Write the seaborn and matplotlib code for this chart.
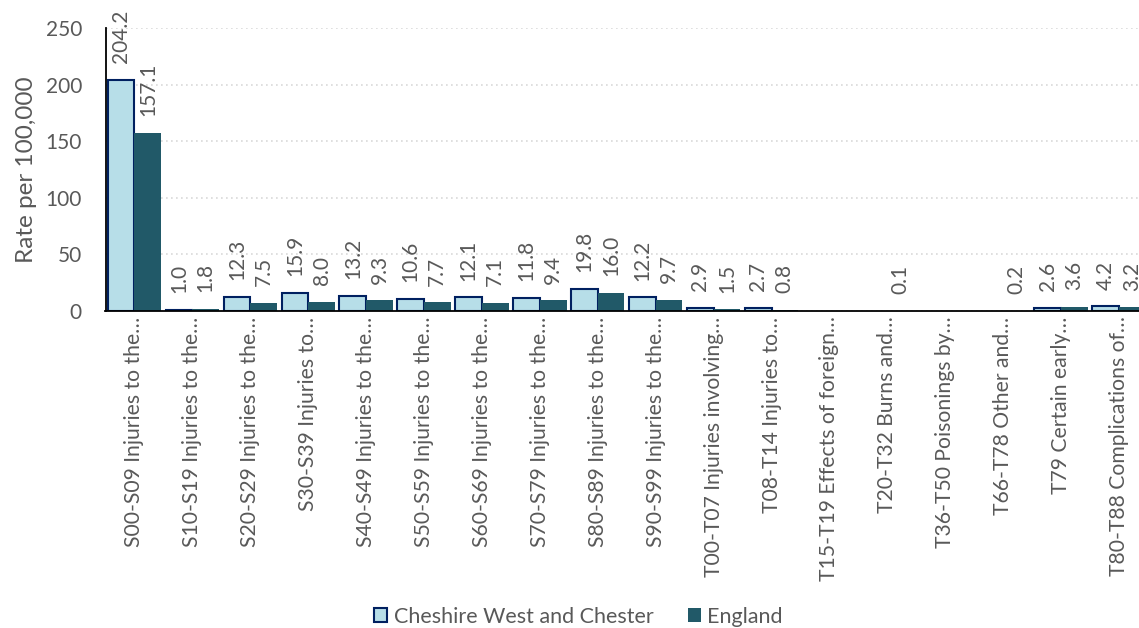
import numpy as np
import pandas as pd
import seaborn as sns
import matplotlib.pyplot as plt
from matplotlib.patches import Patch

categories = [
    "S00-S09 Injuries to the…",
    "S10-S19 Injuries to the…",
    "S20-S29 Injuries to the…",
    "S30-S39 Injuries to…",
    "S40-S49 Injuries to the…",
    "S50-S59 Injuries to the…",
    "S60-S69 Injuries to the…",
    "S70-S79 Injuries to the…",
    "S80-S89 Injuries to the…",
    "S90-S99 Injuries to the…",
    "T00-T07 Injuries involving…",
    "T08-T14 Injuries to…",
    "T15-T19 Effects of foreign…",
    "T20-T32 Burns and…",
    "T36-T50 Poisonings by…",
    "T66-T78 Other and…",
    "T79 Certain early…",
    "T80-T88 Complications of…",
]
cheshire = [204.2, 1.0, 12.3, 15.9, 13.2, 10.6, 12.1, 11.8, 19.8, 12.2,
            2.9, 2.7, np.nan, np.nan, np.nan, np.nan, 2.6, 4.2]
england = [157.1, 1.8, 7.5, 8.0, 9.3, 7.7, 7.1, 9.4, 16.0, 9.7,
           1.5, 0.8, np.nan, 0.1, np.nan, 0.2, 3.6, 3.2]
series_names = ["Cheshire West and Chester", "England"]
y_ticks = [0, 50, 100, 150, 200, 250]

LIGHT = "#B7DEE8"
DARK = "#215968"
EDGE = "#002060"
GREY = "#595959"

sns.set_theme(style="white")
plt.rcParams["font.family"] = ["Lato", "DejaVu Sans"]

df = pd.DataFrame({
    "category": categories * 2,
    "area": [series_names[0]] * len(categories) + [series_names[1]] * len(categories),
    "rate": cheshire + england,
})
df["height"] = df["rate"].fillna(0.0)

fig = plt.figure(figsize=(11.39, 6.28), dpi=100)
ax = fig.add_axes([105.5 / 1139, 1 - 311 / 628, (1148 - 105.5) / 1139, 283 / 628])

sns.barplot(data=df, x="category", y="height", hue="area", order=categories,
            hue_order=series_names, palette=[LIGHT, DARK], width=0.92, gap=0,
            saturation=1, errorbar=None, legend=False, ax=ax, zorder=3)

# Outline the local-authority bars; the England bars stay flat
for bar, v in zip(ax.containers[0], cheshire):
    bar.set_edgecolor(EDGE)
    bar.set_linewidth(1.5 if not np.isnan(v) else 0)
for bar in ax.containers[1]:
    bar.set_linewidth(0)

for container, values in zip(ax.containers, [cheshire, england]):
    labels = ["" if np.isnan(v) else f"{v:.1f}" for v in values]
    ax.bar_label(container, labels=labels, rotation=90, padding=12,
                 fontsize=15, color=GREY)

ax.set_xlim(-0.5, len(categories) - 0.5)
ax.set_ylim(0, 250)
ax.set_yticks(y_ticks)
ax.yaxis.grid(True, linestyle=(0, (1, 2)), color="#D9D9D9", linewidth=1.2, zorder=0)
ax.xaxis.grid(False)

for side in ["top", "right"]:
    ax.spines[side].set_visible(False)
for side in ["left", "bottom"]:
    ax.spines[side].set_color("black")
    ax.spines[side].set_linewidth(1.3)
    ax.spines[side].set_zorder(4)

ax.tick_params(axis="y", length=0, pad=17, labelsize=15, labelcolor=GREY)
ax.tick_params(axis="x", length=0, pad=4, labelsize=15.2, labelcolor=GREY)
ax.set_xticks(range(len(categories)))
ax.set_xticklabels(categories, rotation=90, ha="center", va="top")
ax.set_xlabel("")
ax.set_ylabel("Rate per 100,000", fontsize=17.5, color=GREY, labelpad=6)

handles = [Patch(facecolor=LIGHT, edgecolor=EDGE, linewidth=1.5),
           Patch(facecolor=DARK, edgecolor=DARK, linewidth=0)]
fig.legend(handles, series_names, loc="lower center", bbox_to_anchor=(0.508, 0.002),
           ncol=2, frameon=False, fontsize=15.5, labelcolor=GREY,
           borderpad=0, borderaxespad=0,
           handlelength=0.6, handleheight=0.6, handletextpad=0.3, columnspacing=1.6)

fig.savefig("out.png", dpi=100)
